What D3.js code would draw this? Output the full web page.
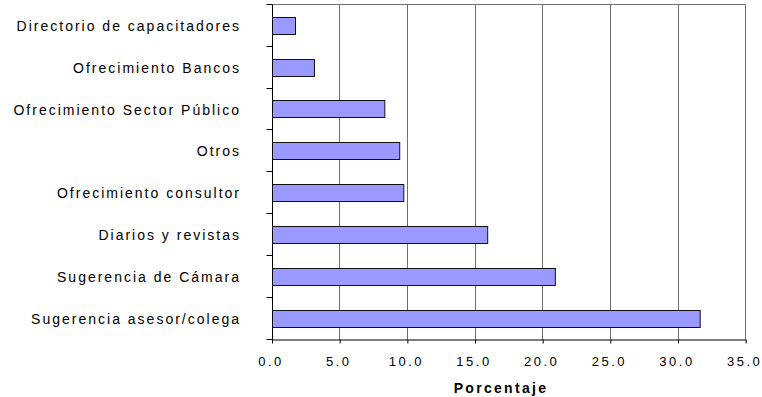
<!DOCTYPE html>
<html>
<head>
<meta charset="utf-8">
<script src="https://cdn.jsdelivr.net/npm/d3@7"></script>
<style>
  html, body { margin: 0; padding: 0; background: #fff; }
  svg { display: block; font-family: "Liberation Sans", Arial, sans-serif; }
</style>
</head>
<body>
<svg id="chart" width="762" height="397"></svg>
<script>
const categories = [
  "Directorio de capacitadores",
  "Ofrecimiento Bancos",
  "Ofrecimiento Sector Público",
  "Otros",
  "Ofrecimiento consultor",
  "Diarios y revistas",
  "Sugerencia de Cámara",
  "Sugerencia asesor/colega"
];
const values = [1.7, 3.1, 8.3, 9.4, 9.7, 15.9, 20.9, 31.6];
const xTicks = [0, 5, 10, 15, 20, 25, 30, 35];
const xTitle = "Porcentaje";

(function () {
const svg = d3.select("#chart");
const pLeft = 272, pRight = 745.7, pTop = 4.5, pBottom = 339;

const x = d3.scaleLinear().domain([0, 35]).range([pLeft, pRight]);
const y = d3.scaleBand().domain(categories).range([pTop, pBottom])
  .paddingInner(0.59).paddingOuter(0.295);

const snap = v => Math.floor(v) + 0.5;

// gridlines (vertical) and frame
svg.append("g").selectAll("line").data(xTicks.filter(d => d > 0)).join("line")
  .attr("x1", d => snap(x(d))).attr("x2", d => snap(x(d)))
  .attr("y1", snap(pTop)).attr("y2", snap(pBottom))
  .attr("stroke", "#6e6e6e").attr("stroke-width", 1);
svg.append("line")
  .attr("x1", snap(pLeft)).attr("x2", snap(pRight))
  .attr("y1", snap(pTop)).attr("y2", snap(pTop))
  .attr("stroke", "#6e6e6e").attr("stroke-width", 1);

// bars
svg.append("g").selectAll("rect").data(values).join("rect")
  .attr("x", snap(pLeft))
  .attr("y", (d, i) => Math.round(y(categories[i])) + 0.5)
  .attr("width", d => x(d) - x(0))
  .attr("height", Math.round(y.bandwidth()))
  .attr("fill", "#9999ff")
  .attr("stroke", "#111")
  .attr("stroke-width", 1);

// x axis
const xAxis = d3.axisBottom(x).tickValues(xTicks).tickFormat(d3.format(".1f"))
  .tickSizeInner(4).tickSizeOuter(0).tickPadding(12.8);
const gx = svg.append("g").attr("transform", `translate(0,${snap(pBottom)})`).call(xAxis);
gx.select(".domain").attr("stroke", "#000");
gx.selectAll(".tick line").attr("stroke", "#000");
gx.selectAll(".tick text")
  .attr("font-size", 13).attr("fill", "#000")
  .style("letter-spacing", "2.5px")
  .attr("dx", "-1.5px")
  .attr("font-family", "'Liberation Sans', Arial, sans-serif");

// y axis line and ticks at band boundaries
const step = y.step();
const boundaries = categories.map(c => y(c) - y.paddingInner() * step / 2).concat([pBottom]);
svg.append("line")
  .attr("x1", snap(pLeft)).attr("x2", snap(pLeft))
  .attr("y1", snap(pTop)).attr("y2", snap(pBottom))
  .attr("stroke", "#000");
svg.append("g").selectAll("line").data(boundaries).join("line")
  .attr("x1", snap(pLeft) - 6).attr("x2", snap(pLeft))
  .attr("y1", d => snap(d)).attr("y2", d => snap(d))
  .attr("stroke", "#000");

// category labels
svg.append("g").selectAll("text").data(categories).join("text")
  .attr("x", 241)
  .attr("y", d => y(d) + y.bandwidth() / 2)
  .attr("dy", "0.4em")
  .attr("text-anchor", "end")
  .attr("font-size", 14)
  .style("letter-spacing", "2px")
  .attr("fill", "#000")
  .text(d => d);

// x title
svg.append("text")
  .attr("x", 501)
  .attr("y", 393)
  .attr("text-anchor", "middle")
  .attr("font-size", 14)
  .attr("font-weight", "bold")
  .style("letter-spacing", "2.3px")
  .attr("fill", "#000")
  .text(xTitle);
})();
</script>
</body>
</html>
